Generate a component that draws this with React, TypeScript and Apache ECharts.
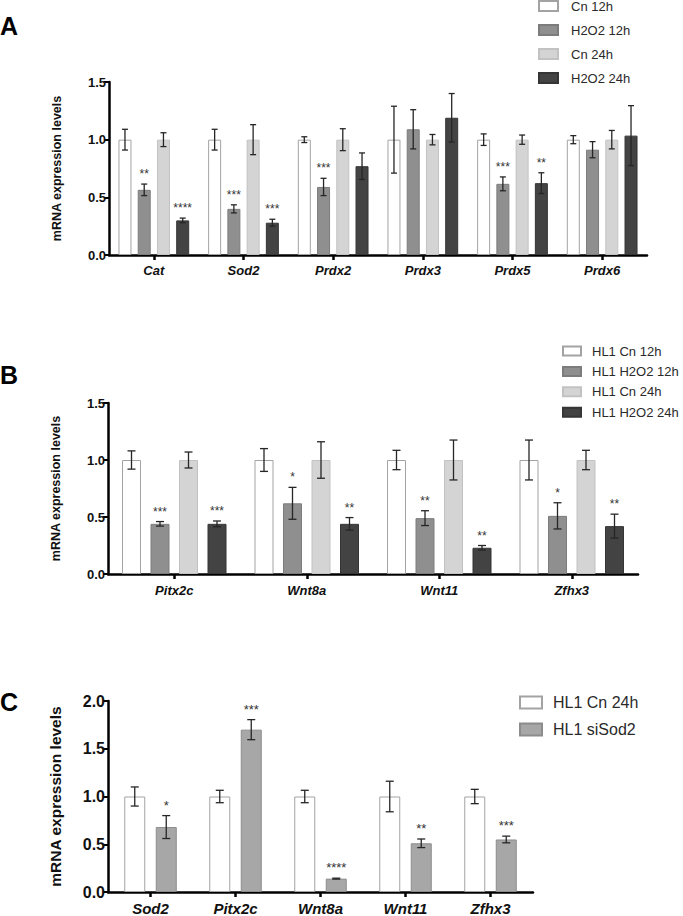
import React, { useEffect, useRef } from "react";
import * as echarts from "echarts";

// ---------- Panel A data ----------
const catsA = ["Cat", "Sod2", "Prdx2", "Prdx3", "Prdx5", "Prdx6"];
const namesA = ["Cn 12h", "H2O2 12h", "Cn 24h", "H2O2 24h"];
const aCn12 = [1, 1, 1, 1, 1, 1];
const aCn12Err = [0.09, 0.09, 0.025, 0.29, 0.05, 0.035];
const aH12 = [0.565, 0.4, 0.59, 1.09, 0.617, 0.913];
const aH12Err = [0.05, 0.035, 0.075, 0.17, 0.06, 0.07];
const aCn24 = [1, 1, 1, 1, 1, 1];
const aCn24Err = [0.06, 0.13, 0.095, 0.045, 0.04, 0.08];
const aH24 = [0.3, 0.28, 0.77, 1.19, 0.623, 1.035];
const aH24Err = [0.02, 0.03, 0.115, 0.21, 0.09, 0.26];
const aH12Sig = ["**", "***", "***", "", "***", ""];
const aH24Sig = ["****", "***", "", "", "**", ""];
const noSigA = ["", "", "", "", "", ""];

// ---------- Panel B data ----------
const catsB = ["Pitx2c", "Wnt8a", "Wnt11", "Zfhx3"];
const namesB = ["HL1 Cn 12h", "HL1 H2O2 12h", "HL1 Cn 24h", "HL1 H2O2 24h"];
const bCn12 = [1, 1, 1, 1];
const bCn12Err = [0.08, 0.1, 0.085, 0.175];
const bH12 = [0.44, 0.62, 0.49, 0.51];
const bH12Err = [0.02, 0.14, 0.065, 0.115];
const bCn24 = [1, 1, 1, 1];
const bCn24Err = [0.07, 0.16, 0.175, 0.085];
const bH24 = [0.44, 0.44, 0.23, 0.42];
const bH24Err = [0.025, 0.055, 0.02, 0.105];
const bH12Sig = ["***", "*", "**", "*"];
const bH24Sig = ["***", "**", "**", "**"];
const noSigB = ["", "", "", ""];

// ---------- Panel C data ----------
const catsC = ["Sod2", "Pitx2c", "Wnt8a", "Wnt11", "Zfhx3"];
const namesC = ["HL1 Cn 24h", "HL1 siSod2"];
const cCn24 = [1, 1, 1, 1, 1];
const cCn24Err = [0.1, 0.065, 0.065, 0.16, 0.075];
const cSi = [0.68, 1.7, 0.14, 0.51, 0.55];
const cSiErr = [0.12, 0.105, 0.005, 0.045, 0.035];
const cSiSig = ["*", "***", "****", "**", "***"];
const noSigC = ["", "", "", "", ""];

const yTitle = "mRNA expression levels";
const FONT = '"Liberation Sans", Arial, Helvetica, sans-serif';

type S = { name: string; values: number[]; errs: number[]; sig: string[]; color: string; border: string };

type Panel = {
  top: number;
  height: number;
  letter: string;
  letterY: number;
  grid: { left: number; top: number; width: number; height: number };
  cats: string[];
  series: S[];
  barWidth: number;
  gap: number;
  ymax: number;
  tickFont: number;
  catFont: number;
  catMargin: number;
  titleFont: number;
  titleGap: number;
  starFont: number;
  capHalf: number;
  legend: { left: number; top: number; w: number; h: number; font: number; lh: number; gap: number; pad: number };
};

function buildOption(p: Panel): any {
  const n = p.series.length;
  const step = p.barWidth * (1 + p.gap);
  const series: any[] = [];
  p.series.forEach((s) => {
    series.push({
      type: "bar",
      name: s.name,
      data: s.values,
      barWidth: p.barWidth,
      barGap: p.gap * 100 + "%",
      itemStyle: { color: s.color, borderColor: s.border, borderWidth: 1 },
      emphasis: { disabled: true },
      z: 2,
    });
  });
  p.series.forEach((s, i) => {
    const offset = (i - (n - 1) / 2) * step;
    series.push({
      type: "custom",
      name: s.name + " error",
      data: s.values.map((v, k) => [k, v, s.errs[k]]),
      encode: { x: 0, y: 1 },
      z: 5,
      silent: true,
      itemStyle: { color: "#333333" },
      emphasis: { disabled: true },
      renderItem: (params: any, api: any) => {
        const k = api.value(0);
        const v = api.value(1);
        const e = api.value(2);
        const c = api.coord([k, v]);
        const x = c[0] + offset;
        const yHi = api.coord([k, v + e])[1];
        const yLo = api.coord([k, v - e])[1];
        const st = { stroke: "#262626", lineWidth: 1.3, fill: null };
        const children: any[] = [
          { type: "line", shape: { x1: x, y1: yHi, x2: x, y2: yLo }, style: st },
          { type: "line", shape: { x1: x - p.capHalf, y1: yHi, x2: x + p.capHalf, y2: yHi }, style: st },
          { type: "line", shape: { x1: x - p.capHalf, y1: yLo, x2: x + p.capHalf, y2: yLo }, style: st },
        ];
        const sig = s.sig[k];
        if (sig) {
          children.push({
            type: "text",
            style: {
              text: sig,
              x: x,
              y: yHi - 4,
              align: "center",
              verticalAlign: "bottom",
              font: `${p.starFont}px ${FONT}`,
              fill: "#333333",
              stroke: null,
            },
          });
        }
        return { type: "group", children };
      },
    });
  });

  return {
    animation: false,
    backgroundColor: "#ffffff",
    grid: { left: p.grid.left, top: p.grid.top, width: p.grid.width, height: p.grid.height, containLabel: false },
    legend: {
      orient: "vertical",
      left: p.legend.left,
      top: p.legend.top,
      padding: 0,
      itemWidth: p.legend.w,
      itemHeight: p.legend.h,
      itemGap: p.legend.gap,
      icon: "rect",
      selectedMode: false,
      data: p.series.map((s) => s.name),
      textStyle: {
        fontFamily: FONT,
        fontSize: p.legend.font,
        lineHeight: p.legend.lh,
        color: "#2a2a2a",
        padding: [0, 0, 0, p.legend.pad],
      },
    },
    graphic: [
      {
        type: "text",
        left: 0,
        top: p.letterY,
        style: { text: p.letter, font: `bold 25px ${FONT}`, fill: "#000" },
      },
    ],
    xAxis: {
      type: "category",
      data: p.cats,
      axisLine: { show: true, lineStyle: { color: "#000", width: 2.5 } },
      axisTick: { show: true, alignWithLabel: true, length: 5, lineStyle: { color: "#000", width: 2.5 } },
      axisLabel: {
        fontFamily: FONT,
        fontSize: p.catFont,
        fontWeight: "bold",
        fontStyle: "italic",
        color: "#111",
        margin: p.catMargin,
      },
      splitLine: { show: false },
    },
    yAxis: {
      type: "value",
      min: 0,
      max: p.ymax,
      interval: 0.5,
      name: yTitle,
      nameLocation: "middle",
      nameRotate: 90,
      nameGap: p.titleGap,
      nameTextStyle: { fontFamily: FONT, fontSize: p.titleFont, fontWeight: "bold", color: "#111" },
      axisLine: { show: true, lineStyle: { color: "#000", width: 2.5 } },
      axisTick: { show: true, length: 5, lineStyle: { color: "#000", width: 2 } },
      axisLabel: {
        fontFamily: FONT,
        fontSize: p.tickFont,
        fontWeight: "bold",
        color: "#111",
        margin: 3,
        formatter: (v: number) => v.toFixed(1),
      },
      splitLine: { show: false },
    },
    series,
  };
}

const WHITE = "#ffffff";
const WHITE_B = "#a3a3a3";
const MID = "#8f8f8f";
const MID_B = "#7c7c7c";
const LIGHT = "#d4d4d4";
const LIGHT_B = "#c2c2c2";
const DARK = "#434343";
const DARK_B = "#353535";
const SI = "#a7a7a7";
const SI_B = "#8c8c8c";

const panels: Panel[] = [
  {
    top: 0,
    height: 330,
    letter: "A",
    letterY: 13,
    grid: { left: 109, top: 82, width: 538, height: 173 },
    cats: catsA,
    series: [
      { name: namesA[0], values: aCn12, errs: aCn12Err, sig: noSigA, color: WHITE, border: WHITE_B },
      { name: namesA[1], values: aH12, errs: aH12Err, sig: aH12Sig, color: MID, border: MID_B },
      { name: namesA[2], values: aCn24, errs: aCn24Err, sig: noSigA, color: LIGHT, border: LIGHT_B },
      { name: namesA[3], values: aH24, errs: aH24Err, sig: aH24Sig, color: DARK, border: DARK_B },
    ],
    barWidth: 13,
    gap: 0.48,
    ymax: 1.5,
    tickFont: 13,
    catFont: 13,
    catMargin: 9,
    titleFont: 12.5,
    titleGap: 46,
    starFont: 12,
    capHalf: 3,
    legend: { left: 538, top: -1, w: 19, h: 10, font: 13, lh: 14, gap: 10, pad: 8 },
  },
  {
    top: 330,
    height: 290,
    letter: "B",
    letterY: 32,
    grid: { left: 108, top: 73, width: 530, height: 171 },
    cats: catsB,
    series: [
      { name: namesB[0], values: bCn12, errs: bCn12Err, sig: noSigB, color: WHITE, border: WHITE_B },
      { name: namesB[1], values: bH12, errs: bH12Err, sig: bH12Sig, color: MID, border: MID_B },
      { name: namesB[2], values: bCn24, errs: bCn24Err, sig: noSigB, color: LIGHT, border: LIGHT_B },
      { name: namesB[3], values: bH24, errs: bH24Err, sig: bH24Sig, color: DARK, border: DARK_B },
    ],
    barWidth: 19,
    gap: 0.5,
    ymax: 1.5,
    tickFont: 13,
    catFont: 13,
    catMargin: 10,
    titleFont: 12.5,
    titleGap: 46,
    starFont: 12,
    capHalf: 4,
    legend: { left: 562, top: 14, w: 18, h: 9, font: 13, lh: 14, gap: 6.4, pad: 6 },
  },
  {
    top: 620,
    height: 296,
    letter: "C",
    letterY: 69,
    grid: { left: 108, top: 81, width: 425, height: 194 },
    cats: catsC,
    series: [
      { name: namesC[0], values: cCn24, errs: cCn24Err, sig: noSigC, color: WHITE, border: WHITE_B },
      { name: namesC[1], values: cSi, errs: cSiErr, sig: cSiSig, color: SI, border: SI_B },
    ],
    barWidth: 21,
    gap: 0.5,
    ymax: 2.0,
    tickFont: 16,
    catFont: 15,
    catMargin: 9,
    titleFont: 15.5,
    titleGap: 45,
    starFont: 13,
    capHalf: 4,
    legend: { left: 519, top: 74, w: 22, h: 12, font: 16, lh: 17, gap: 10, pad: 6 },
  },
];

function PanelChart({ p }: { p: Panel }) {
  const ref = useRef<HTMLDivElement>(null);
  useEffect(() => {
    if (!ref.current) return;
    const chart = echarts.init(ref.current, undefined, { renderer: "svg" });
    chart.setOption(buildOption(p));
    return () => chart.dispose();
  }, [p]);
  return (
    <div
      ref={ref}
      style={{ position: "absolute", left: 0, top: p.top, width: 683, height: p.height }}
    />
  );
}

export default function App() {
  return (
    <div style={{ position: "absolute", left: 0, top: 0, width: 683, height: 916, background: "#fff", overflow: "hidden" }}>
      {panels.map((p) => (
        <PanelChart key={p.letter} p={p} />
      ))}
    </div>
  );
}
